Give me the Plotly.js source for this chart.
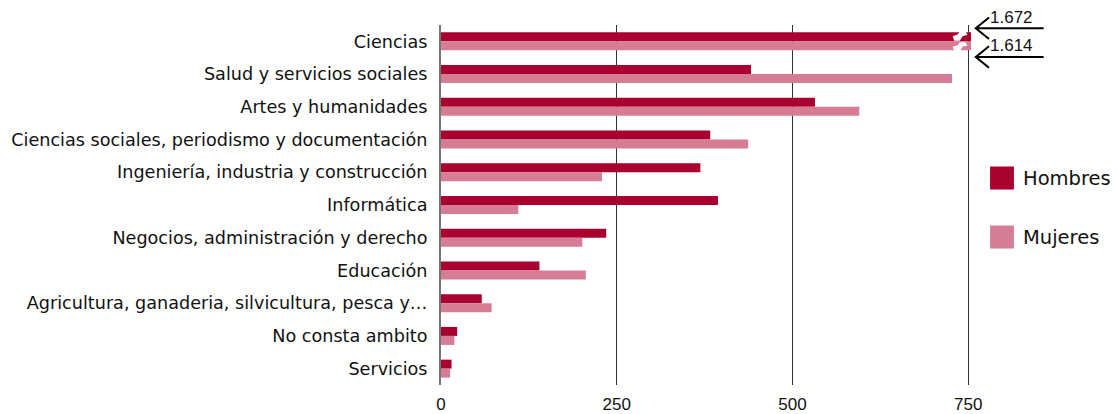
<!DOCTYPE html>
<html><head><meta charset="utf-8">
<script src="https://cdn.plot.ly/plotly-3.0.1.min.js"></script>
<style>html,body{margin:0;padding:0;background:#fff}#chart{width:1117px;height:414px}</style>
</head><body><div id="chart"></div>
<script>
const categories = ["Ciencias","Salud y servicios sociales","Artes y humanidades","Ciencias sociales, periodismo y documentación","Ingeniería, industria y construcción","Informática","Negocios, administración y derecho","Educación","Agricultura, ganaderia, silvicultura, pesca y…","No consta ambito","Servicios"];
const hombres = [1672, 441, 532, 383, 369, 394, 235, 140, 58, 23, 15];
const mujeres = [1614, 727, 595, 437, 229, 110, 201, 206, 72, 19, 13];
const seriesNames = ["Hombres","Mujeres"];
const seriesColors = ["#a8002f","#d57d94"];
const tickVals = [0, 250, 500, 750];
const tickText = ["0","250","500","750"];
const FONT = "DejaVu Sans, Liberation Sans, Arial, sans-serif";
const NUMFONT = "Liberation Sans, Arial, sans-serif";

const traces = [
  {type:"bar", orientation:"h", name:seriesNames[0], y:categories, x:hombres, marker:{color:seriesColors[0]}, hoverinfo:"x+y"},
  {type:"bar", orientation:"h", name:seriesNames[1], y:categories, x:mujeres, marker:{color:seriesColors[1]}, hoverinfo:"x+y"}
];

const shapes = [];
const annotations = [];
// break marks on the truncated Ciencias bars (jagged white cuts)
[[-0.3,-0.02],[0.03,0.3]].forEach(r=>{
  const m = (r[0]+r[1])/2;
  shapes.push({type:"path", xref:"x", yref:"y",
    path:`M 730 ${r[1]} L 738 ${r[1]} L 742 ${m} L 749 ${m-0.04} L 746 ${r[0]} L 738 ${r[0]} L 735 ${m-0.05} L 728 ${m} Z`,
    fillcolor:"#ffffff", line:{width:0}});
});
// value labels with arrows for truncated bars
[[hombres[0], 0.991, 1.02],[mujeres[0], 0.911, 0.942]].forEach(a=>{
  const v = a[0].toLocaleString("de-DE");
  annotations.push({xref:"paper", yref:"paper", x:1.032, y:a[2], text:v, showarrow:false, xanchor:"left", yanchor:"middle", font:{family:NUMFONT,size:17,color:"#111"}});
  shapes.push({type:"line", xref:"paper", yref:"paper", x0:1.009, x1:1.137, y0:a[1], y1:a[1], line:{color:"#000",width:2}});
  shapes.push({type:"path", xref:"paper", yref:"paper", path:`M 1.034 ${a[1]+0.03} L 1.009 ${a[1]} L 1.034 ${a[1]-0.03}`, line:{color:"#000",width:2}});
});
// custom legend
seriesNames.forEach((n,i)=>{
  const yc = 0.575 - i*0.164;
  shapes.push({type:"rect", xref:"paper", yref:"paper", x0:1.036, x1:1.081, y0:yc-0.032, y1:yc+0.032, fillcolor:seriesColors[i], line:{width:0}});
  annotations.push({xref:"paper", yref:"paper", x:1.094, y:yc, text:n, showarrow:false, xanchor:"left", yanchor:"middle", font:{family:FONT,size:19.5,color:"#111"}});
});

const layout = {
  width:1117, height:414,
  margin:{l:441, r:146, t:25, b:29, pad:0},
  paper_bgcolor:"#fff", plot_bgcolor:"#fff",
  barmode:"group", bargap:0.45, bargroupgap:0,
  showlegend:false,
  font:{family:FONT, size:16, color:"#111"},
  xaxis:{range:[0,754], tickvals:tickVals, ticktext:tickText, showgrid:true, gridcolor:"#333", gridwidth:1, zeroline:false, showline:false, ticks:"outside", ticklen:4, tickcolor:"rgba(0,0,0,0)", tickfont:{family:NUMFONT, size:17}, fixedrange:true},
  yaxis:{autorange:"reversed", type:"category", showline:true, linecolor:"#777", linewidth:2, ticks:"outside", ticklen:8, tickcolor:"rgba(0,0,0,0)", showgrid:false, tickfont:{size:17.6}, fixedrange:true},
  shapes:shapes, annotations:annotations
};
Plotly.newPlot("chart", traces, layout, {displayModeBar:false, staticPlot:true});
</script></body></html>
